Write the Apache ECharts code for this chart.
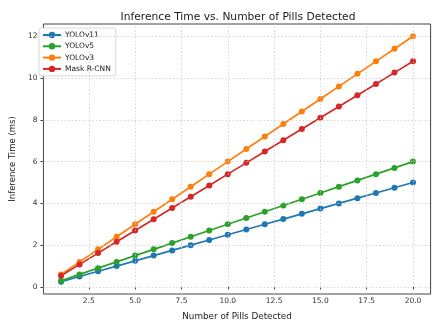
<!DOCTYPE html>
<html>
<head>
<meta charset="utf-8">
<script src="https://cdn.jsdelivr.net/npm/echarts@6/dist/echarts.min.js"></script>
<style>
  html, body { margin: 0; padding: 0; background: #fff; }
  #chart { width: 439px; height: 329px; }
</style>
</head>
<body>
<div id="chart"></div>
<script>
// Number of pills detected per image
const pills = [1, 2, 3, 4, 5, 6, 7, 8, 9, 10, 11, 12, 13, 14, 15, 16, 17, 18, 19, 20];

// Inference time (ms) per model
const yolov11 = [0.25, 0.5, 0.75, 1.0, 1.25, 1.5, 1.75, 2.0, 2.25, 2.5, 2.75, 3.0, 3.25, 3.5, 3.75, 4.0, 4.25, 4.5, 4.75, 5.0];
const yolov5 = [0.3, 0.6, 0.9, 1.2, 1.5, 1.8, 2.1, 2.4, 2.7, 3.0, 3.3, 3.6, 3.9, 4.2, 4.5, 4.8, 5.1, 5.4, 5.7, 6.0];
const yolov3 = [0.6, 1.2, 1.8, 2.4, 3.0, 3.6, 4.2, 4.8, 5.4, 6.0, 6.6, 7.2, 7.8, 8.4, 9.0, 9.6, 10.2, 10.8, 11.4, 12.0];
const maskRcnn = [0.54, 1.08, 1.62, 2.16, 2.7, 3.24, 3.78, 4.32, 4.86, 5.4, 5.94, 6.48, 7.02, 7.56, 8.1, 8.64, 9.18, 9.72, 10.26, 10.8];

// Tick labels
const xTicks = [2.5, 5.0, 7.5, 10.0, 12.5, 15.0, 17.5, 20.0];
const yTicks = [0, 2, 4, 6, 8, 10, 12];

const seriesDefs = [
  { name: 'YOLOv11', values: yolov11, color: '#1f77b4' },
  { name: 'YOLOv5', values: yolov5, color: '#2ca02c' },
  { name: 'YOLOv3', values: yolov3, color: '#ff7f0e' },
  { name: 'Mask R-CNN', values: maskRcnn, color: '#d62728' }
];

const FONT = 'DejaVu Sans';
const chart = echarts.init(document.getElementById('chart'), null, { renderer: 'canvas' });

// Dotted grid lines placed at the tick values
const gridSeries = {
  name: '__grid',
  type: 'line',
  data: [],
  silent: true,
  z: 1,
  markLine: {
    silent: true,
    symbol: ['none', 'none'],
    label: { show: false },
    lineStyle: { color: '#cccccc', type: [1.5, 2], width: 0.8 },
    emphasis: { disabled: true },
    animation: false,
    data: xTicks.map(v => ({ xAxis: v })).concat(yTicks.map(v => ({ yAxis: v })))
  }
};

chart.setOption({
  backgroundColor: '#ffffff',
  animation: false,
  textStyle: { fontFamily: FONT },
  title: {
    text: 'Inference Time vs. Number of Pills Detected',
    left: 233, top: 7, textAlign: 'center',
    textStyle: { fontFamily: FONT, fontSize: 10.7, fontWeight: 'normal', color: '#1a1a1a' }
  },
  legend: {
    orient: 'vertical',
    left: 39, top: 28,
    padding: [3, 5, 3, 3],
    itemGap: 3.3,
    itemWidth: 18, itemHeight: 8,
    backgroundColor: '#ffffff',
    borderColor: '#d8d8d8', borderWidth: 1, borderRadius: 2,
    textStyle: { fontFamily: FONT, fontSize: 7.5, color: '#222', padding: [0, 0, 0, -1] },
    data: seriesDefs.map(s => s.name)
  },
  grid: {
    left: 36.5, right: 8.4, top: 24, bottom: 35,
    show: true, borderColor: '#444', borderWidth: 1, backgroundColor: 'transparent'
  },
  xAxis: {
    type: 'value',
    min: 0.05, max: 20.95,
    name: 'Number of Pills Detected',
    nameLocation: 'middle', nameGap: 18,
    nameTextStyle: { fontFamily: FONT, fontSize: 8.8, color: '#222' },
    axisLine: { show: false },
    axisTick: { show: true, length: 3, lineStyle: { color: '#444' }, customValues: xTicks },
    axisLabel: {
      fontFamily: FONT, fontSize: 7.5, color: '#333', margin: 3,
      customValues: xTicks,
      formatter: v => Number(v).toFixed(1)
    },
    splitLine: { show: false }
  },
  yAxis: {
    type: 'value',
    min: -0.3375, max: 12.5875,
    name: 'Inference Time (ms)',
    nameLocation: 'middle', nameGap: 21,
    nameTextStyle: { fontFamily: FONT, fontSize: 8.5, color: '#222' },
    axisLine: { show: false },
    axisTick: { show: true, length: 3, lineStyle: { color: '#444' }, customValues: yTicks },
    axisLabel: {
      fontFamily: FONT, fontSize: 7.5, color: '#333', margin: 6,
      customValues: yTicks,
      formatter: v => String(Math.round(v))
    },
    splitLine: { show: false }
  },
  series: [gridSeries].concat(seriesDefs.map(s => ({
    name: s.name,
    type: 'line',
    data: pills.map((x, i) => [x, s.values[i]]),
    symbol: 'circle',
    symbolSize: 6,
    showSymbol: true,
    itemStyle: { color: s.color },
    lineStyle: { color: s.color, width: 1.7 },
    z: 3
  })))
});
</script>
</body>
</html>
